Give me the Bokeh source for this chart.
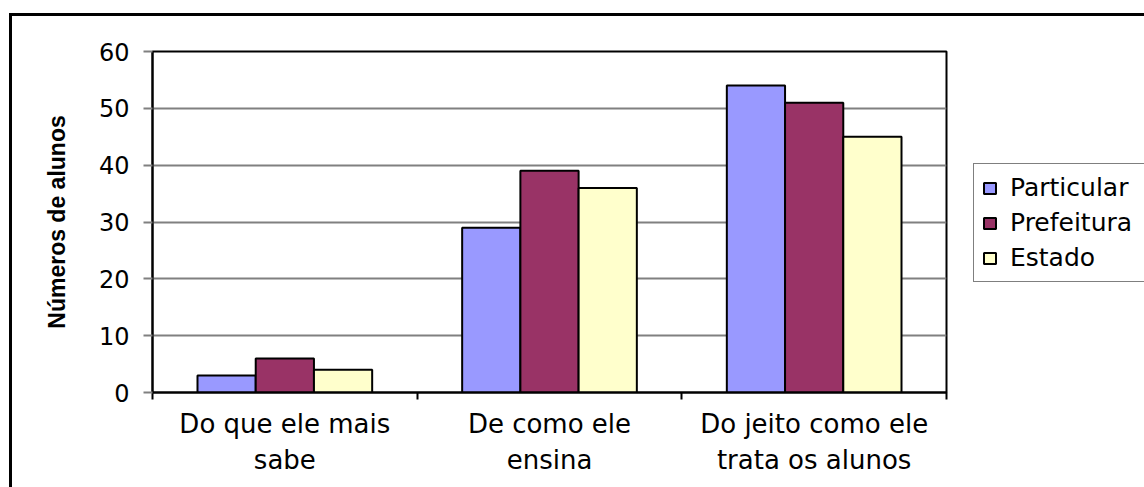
from bokeh.plotting import figure
from bokeh.layouts import row
from bokeh.models import Range1d, FixedTicker, ColumnDataSource, Legend, LegendItem
from bokeh.transform import dodge
from bokeh.embed import file_html
from bokeh.resources import INLINE

# ---- data ----
categories = ["Do que ele mais sabe", "De como ele ensina", "Do jeito como ele trata os alunos"]
tick_labels = ["Do que ele mais\nsabe", "De como ele\nensina", "Do jeito como ele\ntrata os alunos"]
particular = [3, 29, 54]
prefeitura = [6, 39, 51]
estado = [4, 36, 45]
series_names = ["Particular", "Prefeitura", "Estado"]
y_ticks = [0, 10, 20, 30, 40, 50, 60]
y_label = "Números de alunos"

colors = ["#9999FF", "#993366", "#FFFFCC"]
FONT = "DejaVu Sans"

centers = [i + 0.5 for i in range(len(categories))]
source = ColumnDataSource(dict(x=centers, cat=categories,
                               Particular=particular, Prefeitura=prefeitura, Estado=estado))

# main chart; the row that holds it starts at (12, 16) because of CSS margin + border
p = figure(width=938, height=471, output_backend="svg", toolbar_location=None,
           x_range=Range1d(0, len(categories)), y_range=Range1d(0, 60),
           min_border_left=140, min_border_right=4, min_border_top=35, min_border_bottom=95,
           background_fill_color="white", border_fill_color="white")

bw = 0.22
offsets = [-bw, 0.0, bw]
for name, col, off in zip(series_names, colors, offsets):
    p.vbar(x=dodge("x", off, range=p.x_range), top=name, width=bw, bottom=0, source=source,
           fill_color=col, line_color="black", line_width=2)

# frame
p.outline_line_color = "black"
p.outline_line_width = 2
p.outline_line_alpha = 1.0

# grid
p.xgrid.visible = False
p.ygrid.grid_line_color = "#808080"
p.ygrid.grid_line_width = 2
p.ygrid.ticker = FixedTicker(ticks=y_ticks)

# y axis
ya = p.yaxis[0]
ya.ticker = FixedTicker(ticks=y_ticks)
ya.axis_line_color = "black"
ya.axis_line_width = 2
ya.major_tick_line_color = "#808080"
ya.major_tick_line_width = 2
ya.major_tick_out = 9
ya.major_tick_in = 0
ya.minor_tick_line_color = None
ya.major_label_text_font = FONT
ya.major_label_text_font_size = "24px"
ya.major_label_text_color = "black"
ya.major_label_standoff = 14
ya.axis_label = y_label
ya.axis_label_text_font = "Liberation Sans"
ya.axis_label_text_font_style = "bold"
ya.axis_label_text_font_size = "23px"
ya.axis_label_text_color = "black"
ya.axis_label_standoff = 26

# x axis
xa = p.xaxis[0]
xa.ticker = FixedTicker(ticks=centers, minor_ticks=list(range(len(categories) + 1)))
xa.major_label_overrides = {c: t for c, t in zip(centers, tick_labels)}
xa.axis_line_color = "black"
xa.axis_line_width = 2
xa.major_tick_line_color = None
xa.major_tick_out = 0
xa.major_tick_in = 0
xa.minor_tick_line_color = "black"
xa.minor_tick_line_width = 2
xa.minor_tick_out = 7
xa.minor_tick_in = 0
xa.major_label_text_font = FONT
xa.major_label_text_font_size = "26px"
xa.major_label_text_color = "black"
xa.major_label_standoff = 9

# legend panel (separate figure to the right, frame covers it entirely)
pl = figure(width=194, height=471, output_backend="svg", toolbar_location=None,
            x_range=Range1d(0, 1), y_range=Range1d(1, 2),
            x_axis_location=None, y_axis_location=None,
            min_border_left=0, min_border_right=0, min_border_top=0, min_border_bottom=0,
            background_fill_color="white", border_fill_color="white")
pl.outline_line_color = None
pl.grid.visible = False
items = []
for name, col in zip(series_names, colors):
    # swatch-only renderer: a zero-size bar hidden behind the legend box
    r = pl.vbar(x=[0.6], top=[1.5], bottom=[1.5], width=0, fill_color=col,
                line_color="black", line_width=2)
    items.append(LegendItem(label=name, renderers=[r]))

lg = Legend(items=items, location=(23, 110))
lg.border_line_color = "black"
lg.border_line_width = 1
lg.background_fill_color = "white"
lg.background_fill_alpha = 1.0
lg.label_text_font = FONT
lg.label_text_font_size = "25px"
lg.label_text_color = "black"
lg.glyph_width = 15
lg.glyph_height = 14
lg.label_standoff = 13
lg.label_height = 31
lg.label_width = 150
lg.spacing = 4
lg.padding = 8
lg.margin = 0
pl.add_layout(lg)

layout = row(p, pl)
layout.margin = (13, 0, 0, 9)
layout.styles = {"border-left": "3px solid black", "border-top": "3px solid black"}

open("out.html", "w").write(file_html(layout, INLINE))
